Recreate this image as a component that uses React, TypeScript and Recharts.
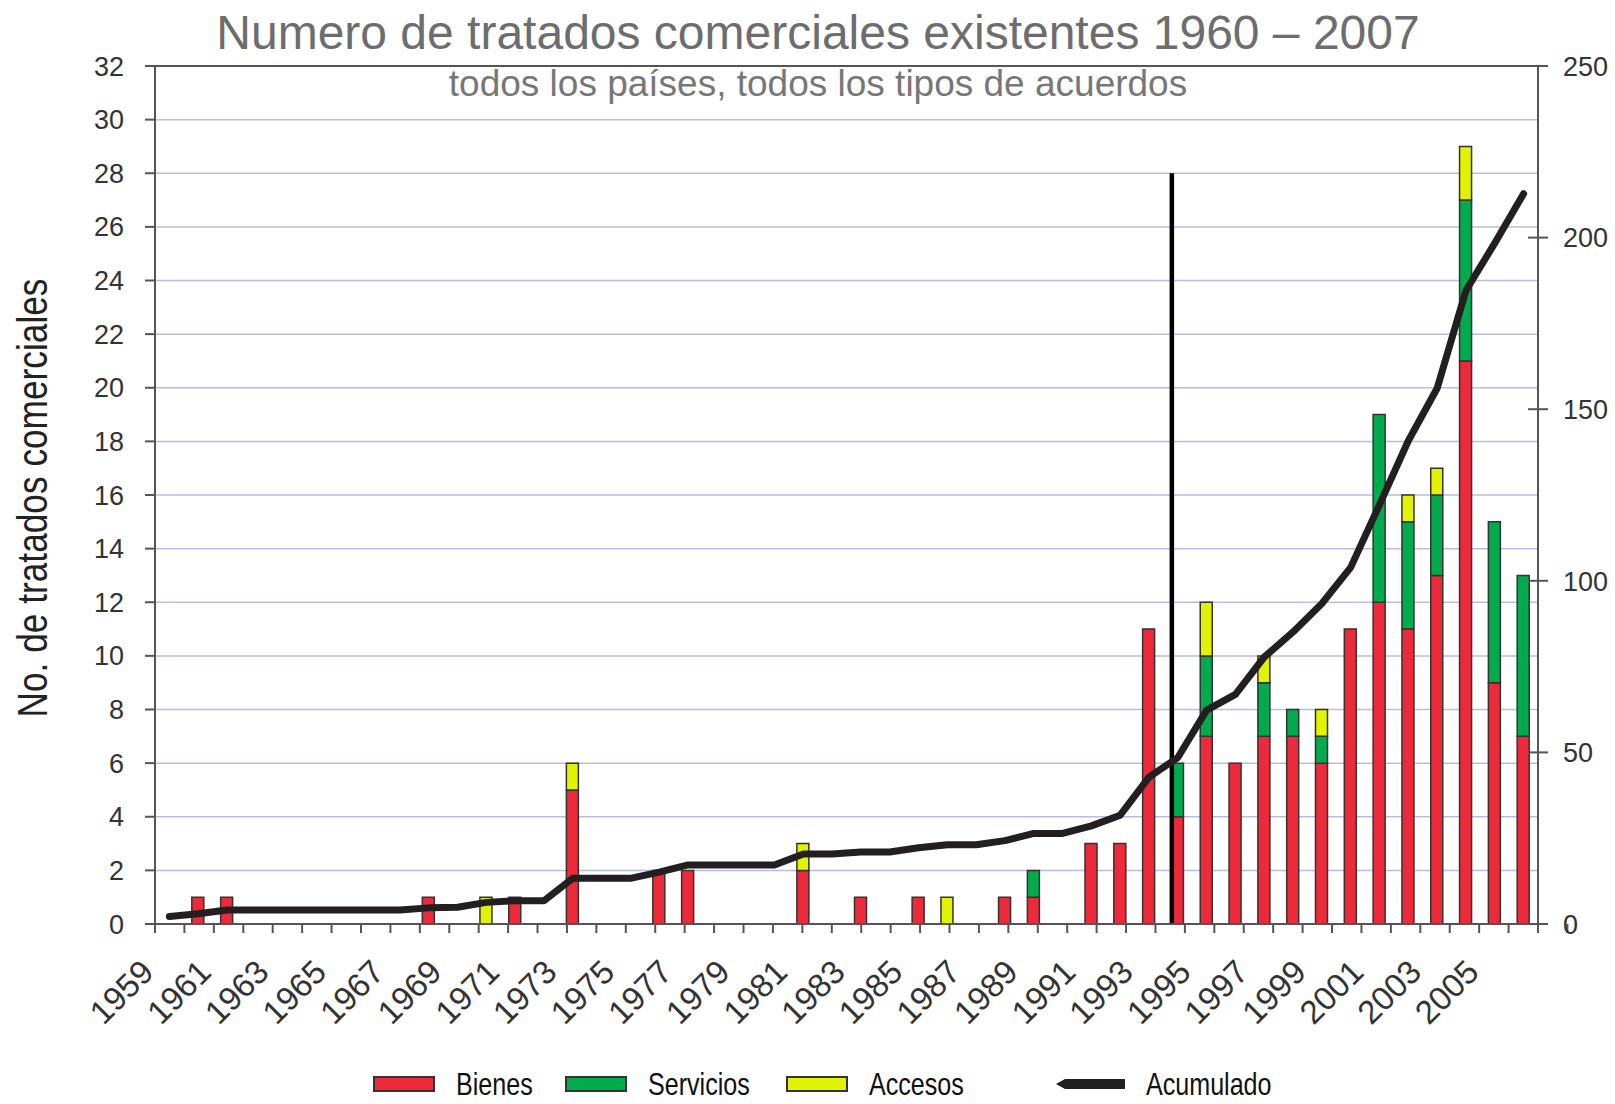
import React from 'react';
import {
  ComposedChart,
  Bar,
  Line,
  XAxis,
  YAxis,
  CartesianGrid,
  ReferenceLine,
} from 'recharts';

// categories as printed under the axis (labels every second year)
const years = [
  1959, 1960, 1961, 1962, 1963, 1964, 1965, 1966, 1967, 1968, 1969, 1970,
  1971, 1972, 1973, 1974, 1975, 1976, 1977, 1978, 1979, 1980, 1981, 1982,
  1983, 1984, 1985, 1986, 1987, 1988, 1989, 1990, 1991, 1992, 1993, 1994,
  1995, 1996, 1997, 1998, 1999, 2000, 2001, 2002, 2003, 2004, 2005, 2006,
];

const bienes = [
  0, 1, 1, 0, 0, 0, 0, 0, 0, 1, 0, 0,
  1, 0, 5, 0, 0, 2, 2, 0, 0, 0, 2, 0,
  1, 0, 1, 0, 0, 1, 1, 0, 3, 3, 11, 4,
  7, 6, 7, 7, 6, 11, 12, 11, 13, 21, 9, 7,
];

const servicios = [
  0, 0, 0, 0, 0, 0, 0, 0, 0, 0, 0, 0,
  0, 0, 0, 0, 0, 0, 0, 0, 0, 0, 0, 0,
  0, 0, 0, 0, 0, 0, 1, 0, 0, 0, 0, 2,
  3, 0, 2, 1, 1, 0, 7, 4, 3, 6, 6, 6,
];

const accesos = [
  0, 0, 0, 0, 0, 0, 0, 0, 0, 0, 0, 1,
  0, 0, 1, 0, 0, 0, 0, 0, 0, 0, 1, 0,
  0, 0, 0, 1, 0, 0, 0, 0, 0, 0, 0, 0,
  2, 0, 1, 0, 1, 0, 0, 1, 1, 2, 0, 0,
];

// cumulative count, read against the right axis
const acumulado = [
  2.2, 3.0, 4.1, 4.1, 4.1, 4.1, 4.1, 4.1, 4.1, 4.7, 4.9, 6.3,
  6.8, 6.8, 13.3, 13.3, 13.3, 15.1, 17.2, 17.2, 17.2, 17.2, 20.4, 20.4,
  21, 21, 22.2, 23.1, 23.1, 24.3, 26.4, 26.4, 28.6, 31.7, 42.8, 48.5,
  62.3, 66.9, 77.8, 85.1, 93.4, 103.9, 122.2, 140.8, 156.1, 184.6, 198.4, 212.8,
];

const leftTicks = [0, 2, 4, 6, 8, 10, 12, 14, 16, 18, 20, 22, 24, 26, 28, 30, 32];
const rightTicks = [0, 50, 100, 150, 200, 250];
const wtoYear = 1994;

const RED = '#ec2a3a';
const GREEN = '#00ab4e';
const YELLOW = '#e2f300';
const LINE = '#231f20';
const AXIS = '#555';
const FONT = "'Liberation Sans', Arial, sans-serif";

const data = years.map((year, i) => ({
  year,
  bienes: bienes[i],
  servicios: servicios[i],
  accesos: accesos[i],
  acumulado: acumulado[i],
}));

// tick marks sit on the band edges, so a numeric axis over the band indexes draws them
const edgeTicks = years.map((_, i) => i).concat(years.length);

const legendItems = [
  { label: 'Bienes', color: RED, kind: 'box', left: 373 },
  { label: 'Servicios', color: GREEN, kind: 'box', left: 565 },
  { label: 'Accesos', color: YELLOW, kind: 'box', left: 786 },
  { label: 'Acumulado', color: LINE, kind: 'line', left: 1056 },
];

function YearTick({ x, y, payload }: any) {
  return (
    <g transform={`translate(${x - 14},${y + 49})`}>
      <text
        transform="rotate(-45)"
        textAnchor="end"
        fontSize={33}
        fill="#333"
        fontFamily={FONT}
      >
        {payload.value}
      </text>
    </g>
  );
}

function RightTick({ x, y, payload }: any) {
  return (
    <g>
      <line x1={x - 10} x2={x + 10} y1={y} y2={y} stroke={AXIS} strokeWidth={2} />
      <text x={x + 25} y={y} dy="0.36em" fontSize={27} fill="#333" fontFamily={FONT}>
        {payload.value}
      </text>
    </g>
  );
}

function YLabel({ viewBox }: any) {
  const cy = viewBox.y + viewBox.height / 2 + 3;
  return (
    <text
      transform={`translate(${viewBox.x + 47},${cy}) rotate(-90) scale(0.82,1)`}
      textAnchor="middle"
      fontSize={43}
      fill="#222"
      fontFamily={FONT}
    >
      No. de tratados comerciales
    </text>
  );
}

export default function App() {
  return (
    <div
      style={{
        position: 'absolute',
        left: 0,
        top: 0,
        width: 1615,
        height: 1104,
        background: '#fff',
        fontFamily: FONT,
        overflow: 'hidden',
      }}
    >
      <div
        style={{
          position: 'absolute',
          left: 18,
          top: 9,
          width: 1600,
          textAlign: 'center',
          fontSize: 48,
          lineHeight: '48px',
          color: '#6d6d6d',
          whiteSpace: 'nowrap',
        }}
      >
        Numero de tratados comerciales existentes 1960 – 2007
      </div>
      <div
        style={{
          position: 'absolute',
          left: 18,
          top: 65,
          width: 1600,
          textAlign: 'center',
          fontSize: 37,
          lineHeight: '37px',
          color: '#777',
          whiteSpace: 'nowrap',
        }}
      >
        todos los países, todos los tipos de acuerdos
      </div>

      <ComposedChart
        width={1615}
        height={1104}
        data={data}
        margin={{ top: 66, right: 0, left: 0, bottom: 79 }}
        style={{ position: 'absolute', left: 0, top: 0 }}
      >
        <CartesianGrid
          xAxisId="cat"
          yAxisId="left"
          vertical={false}
          stroke="#b9bde6"
          strokeWidth={1.5}
        />
        <XAxis
          xAxisId="cat"
          dataKey="year"
          interval={1}
          height={100}
          axisLine={false}
          tickLine={false}
          tickSize={0}
          tickMargin={0}
          tick={<YearTick />}
        />
        <XAxis
          xAxisId="aEdges"
          type="number"
          domain={[0, years.length]}
          ticks={edgeTicks}
          allowDataOverflow
          height={1}
          tick={() => <g />}
          tickSize={9}
          tickLine={{ stroke: AXIS, strokeWidth: 2 }}
          axisLine={{ stroke: AXIS, strokeWidth: 2 }}
        />
        <YAxis
          yAxisId="left"
          domain={[0, 32]}
          ticks={leftTicks}
          width={155}
          tickSize={10}
          tickMargin={21}
          axisLine={{ stroke: AXIS, strokeWidth: 2 }}
          tickLine={{ stroke: AXIS, strokeWidth: 2 }}
          tick={{ fontSize: 27, fill: '#333', fontFamily: FONT }}
          label={<YLabel />}
        />
        <YAxis
          yAxisId="right"
          orientation="right"
          domain={[0, 250]}
          ticks={rightTicks}
          width={77}
          tickSize={0}
          tickMargin={0}
          tickLine={false}
          axisLine={{ stroke: AXIS, strokeWidth: 2 }}
          tick={<RightTick />}
        />
        <ReferenceLine
          xAxisId="cat"
          yAxisId="left"
          y={32}
          stroke={AXIS}
          strokeWidth={2}
        />
        <Bar xAxisId="cat" yAxisId="left" dataKey="bienes" stackId="a" fill={RED}
          stroke="#333" strokeWidth={1.5} barSize={12} isAnimationActive={false} />
        <Bar xAxisId="cat" yAxisId="left" dataKey="servicios" stackId="a" fill={GREEN}
          stroke="#333" strokeWidth={1.5} barSize={12} isAnimationActive={false} />
        <Bar xAxisId="cat" yAxisId="left" dataKey="accesos" stackId="a" fill={YELLOW}
          stroke="#333" strokeWidth={1.5} barSize={12} isAnimationActive={false} />
        <ReferenceLine
          xAxisId="cat"
          yAxisId="left"
          segment={[{ x: wtoYear, y: 0 }, { x: wtoYear, y: 28 }]}
          shape={(p: any) => (
            <line x1={p.x1 - 6} y1={p.y1} x2={p.x2 - 6} y2={p.y2} stroke="#000" strokeWidth={4.5} />
          )}
        />
        <Line
          xAxisId="cat"
          yAxisId="right"
          dataKey="acumulado"
          type="linear"
          stroke={LINE}
          strokeWidth={7}
          strokeLinecap="round"
          strokeLinejoin="round"
          dot={false}
          activeDot={false}
          isAnimationActive={false}
        />
      </ComposedChart>

      <svg
        width={1615}
        height={54}
        style={{ position: 'absolute', left: 0, top: 1048 }}
      >
        {legendItems.map((item) => (
          <g key={item.label}>
            {item.kind === 'box' ? (
              <rect
                x={item.left + 1}
                y={29}
                width={60}
                height={14}
                fill={item.color}
                stroke="#333"
                strokeWidth={2}
              />
            ) : (
              <polygon
                points={`${item.left},36 ${item.left + 9},31 ${item.left + 69},31 ${item.left + 69},41 ${item.left + 9},41`}
                fill={item.color}
              />
            )}
            <text
              transform={`translate(${item.left + (item.kind === 'box' ? 83 : 90)},47) scale(0.81,1)`}
              fontSize={31}
              fill="#111"
              fontFamily={FONT}
            >
              {item.label}
            </text>
          </g>
        ))}
      </svg>
    </div>
  );
}
